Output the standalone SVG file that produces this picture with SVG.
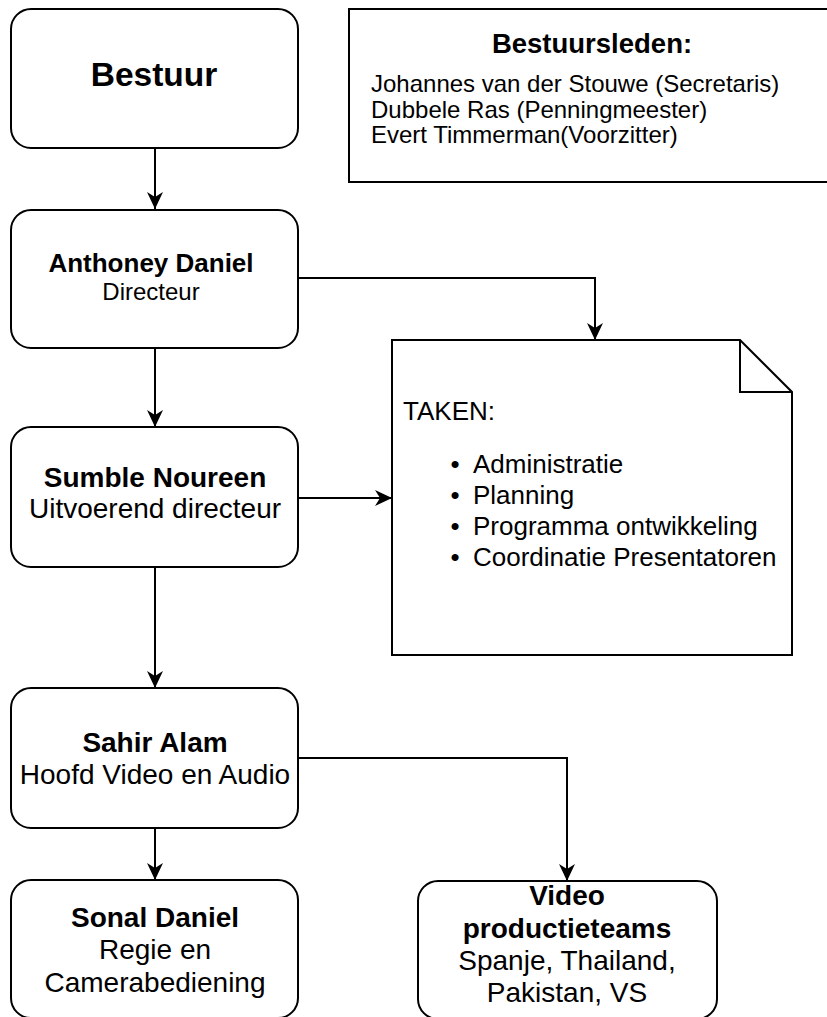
<svg xmlns="http://www.w3.org/2000/svg" width="827" height="1017" viewBox="0 0 827 1017">
<style>
.box{fill:#fff;stroke:#000;stroke-width:2}
.t{font-family:"Liberation Sans",Arial,Helvetica,sans-serif;fill:#000}
.b{font-weight:bold}
.c{text-anchor:middle}
.edge{fill:none;stroke:#000;stroke-width:2}
</style>
<defs>
<marker id="arr" markerUnits="userSpaceOnUse" markerWidth="18" markerHeight="16" refX="17" refY="8" orient="auto">
<path d="M0,0 L17,8 L0,16 L5,8 Z" fill="#000"/>
</marker>
</defs>
<rect width="827" height="1017" fill="#fff"/>
<g id="connectors">
<path class="edge" d="M155,148 V209" marker-end="url(#arr)"/>
<path class="edge" d="M155,348 V427" marker-end="url(#arr)"/>
<path class="edge" d="M155,567 V688" marker-end="url(#arr)"/>
<path class="edge" d="M155,828 V880" marker-end="url(#arr)"/>
<path class="edge" d="M298,278 H595 V340" marker-end="url(#arr)"/>
<path class="edge" d="M298,498 H392" marker-end="url(#arr)"/>
<path class="edge" d="M298,758 H567 V881" marker-end="url(#arr)"/>
</g>
<g id="bestuur">
<rect class="box" x="11" y="9" width="287" height="139" rx="20"/>
<text class="t b c" x="154" y="86" font-size="33.5">Bestuur</text>
</g>
<g id="bestuursleden">
<rect class="box" x="349" y="9" width="490" height="173"/>
<text class="t b c" x="592" y="53" font-size="27.5">Bestuursleden:</text>
<text class="t" x="371" y="92" font-size="24">Johannes van der Stouwe (Secretaris)</text>
<text class="t" x="371" y="118" font-size="24">Dubbele Ras (Penningmeester)</text>
<text class="t" x="371" y="143" font-size="24">Evert Timmerman(Voorzitter)</text>
</g>
<g id="anthoney">
<rect class="box" x="11" y="210" width="287" height="138" rx="20"/>
<text class="t b c" x="151" y="272" font-size="26">Anthoney Daniel</text>
<text class="t c" x="151" y="300" font-size="24">Directeur</text>
</g>
<g id="sumble">
<rect class="box" x="11" y="427" width="287" height="140" rx="20"/>
<text class="t b c" x="155" y="487" font-size="28">Sumble Noureen</text>
<text class="t c" x="155" y="518" font-size="28">Uitvoerend directeur</text>
</g>
<g id="taken">
<path class="box" d="M392,340 H740 L792,392 V655 H392 Z"/>
<path class="edge" d="M740,340 V392 H792"/>
<text class="t" x="403" y="420" font-size="26">TAKEN:</text>
<g class="t" font-size="26">
<text x="455" y="473" class="c">•</text><text x="473" y="473">Administratie</text>
<text x="455" y="504" class="c">•</text><text x="473" y="504">Planning</text>
<text x="455" y="535" class="c">•</text><text x="473" y="535">Programma ontwikkeling</text>
<text x="455" y="566" class="c">•</text><text x="473" y="566">Coordinatie Presentatoren</text>
</g>
</g>
<g id="sahir">
<rect class="box" x="11" y="688" width="287" height="140" rx="20"/>
<text class="t b c" x="155" y="752" font-size="28">Sahir Alam</text>
<text class="t c" x="155" y="784" font-size="28">Hoofd Video en Audio</text>
</g>
<g id="sonal">
<rect class="box" x="11" y="880" width="287" height="138" rx="20"/>
<text class="t b c" x="155" y="927" font-size="28">Sonal Daniel</text>
<text class="t c" x="155" y="959" font-size="28">Regie en</text>
<text class="t c" x="155" y="992" font-size="28">Camerabediening</text>
</g>
<g id="video">
<rect class="box" x="418" y="881" width="299" height="138" rx="20"/>
<text class="t b c" x="567" y="905" font-size="28">Video</text>
<text class="t b c" x="567" y="938" font-size="28">productieteams</text>
<text class="t c" x="567" y="970" font-size="28">Spanje, Thailand,</text>
<text class="t c" x="567" y="1002" font-size="28">Pakistan, VS</text>
</g>
</svg>
